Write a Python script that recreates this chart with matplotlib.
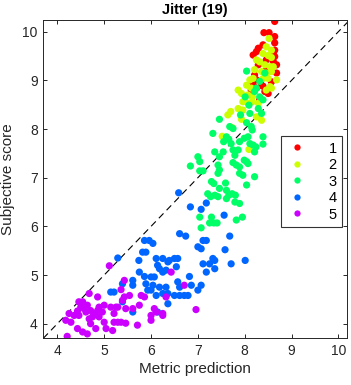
import numpy as np
import matplotlib.pyplot as plt
from matplotlib.lines import Line2D

plt.rcParams['font.family'] = ['Liberation Sans', 'DejaVu Sans']

# group 1 (red)
x1 = [8.64, 8.41, 8.52, 8.64, 8.39, 8.29, 8.25, 8.18, 8.64, 8.64, 8.64, 8.61, 8.46, 8.29, 8.21,
      8.18, 8.14, 8.25, 8.57, 8.50, 8.39, 8.25, 8.43, 8.46, 8.68, 8.68, 8.32, 8.14, 8.61, 8.36]
y1 = [10.21, 9.98, 9.98, 9.90, 9.73, 9.66, 9.59, 9.52, 9.77, 9.62, 9.49, 9.39, 9.42, 9.32, 9.11,
      8.90, 8.97, 9.01, 8.97, 8.73, 8.88, 8.84, 8.77, 9.22, 9.32, 9.15, 8.60, 8.80, 9.56, 8.90]

# group 2 (yellow)
x2 = [8.52, 8.46, 8.57, 8.39, 8.50, 8.57, 8.32, 8.25, 8.43, 8.54, 8.61, 8.21, 8.36, 8.46, 8.57,
      8.39, 8.50, 8.18, 8.11, 8.04, 8.14, 7.86, 7.93, 8.07, 8.16, 7.96, 8.07, 8.16, 8.29, 7.86,
      7.96, 7.70, 7.64, 7.93, 8.36, 8.25, 7.73, 7.52, 8.09, 8.54, 8.46, 8.68, 8.57]
y2 = [9.86, 9.69, 9.62, 9.55, 9.51, 9.47, 9.38, 9.42, 9.32, 9.28, 9.28, 9.22, 9.18, 9.15, 9.18,
      9.04, 9.04, 9.04, 9.01, 8.90, 8.84, 8.80, 8.73, 8.70, 8.66, 8.56, 8.53, 8.56, 8.53, 8.42,
      8.39, 8.36, 8.29, 8.20, 8.18, 8.25, 8.03, 7.85, 7.58, 8.87, 8.80, 9.01, 8.84]

# group 3 (green)
x3 = [8.04, 8.01, 8.09, 8.11, 7.91, 7.46, 7.68, 7.75, 8.04, 8.14, 8.16, 8.07, 7.99, 8.11, 8.18,
      8.24, 8.39, 8.39, 8.21, 7.61, 7.55, 7.66, 7.71, 7.32, 7.36, 7.54, 7.75, 7.79, 7.89, 7.86,
      7.46, 7.75, 7.82, 7.89, 7.99, 8.04, 8.07, 7.89, 7.96, 8.04, 8.21, 7.00, 7.04, 6.84, 7.04,
      7.11, 7.43, 7.46, 7.43, 7.29, 7.34, 7.21, 7.27, 7.36, 7.43, 7.59, 7.61, 7.61, 7.66, 7.73,
      7.80, 7.79, 7.89, 7.46, 7.04, 7.07, 7.29, 7.34, 7.25, 7.41, 7.82, 7.95, 8.32, 8.39, 8.29,
      8.36, 8.25, 8.43, 8.32, 8.21]
y3 = [9.19, 8.66, 8.49, 8.32, 8.29, 8.20, 8.05, 8.01, 8.13, 8.05, 7.98, 7.84, 7.81, 7.70, 7.67,
      7.63, 7.84, 7.69, 7.53, 7.84, 7.74, 7.79, 7.70, 7.91, 7.53, 7.53, 7.57, 7.46, 7.74, 7.57,
      7.43, 7.31, 7.26, 7.22, 7.36, 7.33, 7.29, 7.09, 7.05, 6.85, 7.02, 7.43, 7.33, 7.24, 7.14,
      7.14, 7.26, 7.16, 7.09, 6.92, 6.88, 6.67, 6.61, 6.64, 6.61, 6.89, 6.74, 6.57, 6.64, 6.67,
      6.64, 6.50, 6.47, 6.78, 6.19, 5.97, 6.19, 6.07, 6.07, 6.07, 6.13, 6.19, 8.66, 8.60, 8.42,
      8.32, 8.84, 9.15, 8.98, 8.77]

# group 4 (blue)
x4 = [5.29, 5.14, 5.39, 5.39, 5.61, 5.61, 5.61, 5.74, 5.75, 5.82, 5.89, 5.86, 5.96, 6.04, 5.86,
      5.89, 5.93, 6.00, 6.07, 6.11, 6.14, 6.18, 6.25, 6.04, 6.00, 6.11, 6.18, 6.14, 6.25, 6.32,
      6.36, 6.39, 6.32, 6.36, 6.25, 6.36, 6.50, 6.54, 6.57, 6.57, 6.50, 6.61, 6.61, 6.71, 6.79,
      6.82, 6.86, 7.00, 7.07, 7.11, 7.11, 7.00, 7.07, 7.18, 7.18, 7.25, 7.32, 7.36, 7.36, 6.61,
      6.74, 6.84, 6.59, 7.07, 7.18, 7.56, 7.58, 7.68, 7.71, 8.01, 5.21]
y4 = [5.35, 4.65, 4.82, 4.45, 4.89, 4.24, 4.79, 5.30, 5.06, 5.47, 5.47, 5.71, 5.71, 5.65, 4.97,
      4.82, 4.69, 4.96, 4.96, 5.34, 5.20, 5.13, 5.06, 4.79, 4.69, 4.58, 4.75, 4.24, 5.34, 5.10,
      5.27, 5.30, 4.75, 4.41, 4.62, 4.62, 5.34, 5.17, 5.34, 4.86, 4.58, 4.75, 4.58, 4.58, 4.58,
      4.97, 4.79, 4.69, 4.79, 5.23, 5.71, 5.58, 5.54, 5.06, 5.71, 5.23, 5.34, 5.13, 5.30, 5.85,
      5.80, 6.40, 6.69, 6.35, 6.48, 6.23, 5.52, 5.80, 5.23, 5.30, 4.65]

# group 5 (purple)
x5 = [4.21, 4.18, 4.29, 4.25, 4.43, 4.36, 4.46, 4.54, 4.68, 4.57, 4.64, 4.50, 4.43, 4.54, 4.64,
      4.71, 4.68, 4.79, 4.86, 4.89, 4.89, 4.82, 5.00, 5.00, 4.96, 4.71, 4.61, 4.75, 5.04, 5.18,
      5.14, 5.21, 5.25, 5.21, 5.29, 5.36, 5.46, 5.39, 5.43, 5.54, 5.43, 5.36, 5.46, 5.61, 5.29,
      5.71, 5.75, 5.79, 5.86, 6.00, 6.00, 6.07, 6.11, 6.25, 6.25, 6.32, 6.43, 6.71, 6.96, 5.11,
      4.86, 4.46, 4.54]
y5 = [3.74, 4.07, 4.03, 4.21, 4.26, 4.17, 4.45, 4.45, 4.62, 4.31, 4.38, 4.34, 3.90, 3.83, 3.79,
      4.00, 4.10, 4.21, 4.55, 4.34, 4.14, 3.90, 4.03, 4.38, 4.24, 4.27, 4.24, 4.14, 3.90, 3.86,
      4.34, 4.21, 4.34, 4.03, 4.03, 4.03, 4.01, 4.48, 4.55, 4.58, 4.89, 4.70, 4.31, 4.31, 4.34,
      3.97, 4.38, 4.58, 4.55, 4.07, 4.17, 4.31, 4.24, 4.17, 4.21, 4.55, 5.06, 4.79, 4.29, 5.19,
      4.27, 4.17, 4.41]

groups = [(x1, y1), (x2, y2), (x3, y3), (x4, y4), (x5, y5)]
labels = ['1', '2', '3', '4', '5']
colors = [(1, 0, 0), (0.8, 1, 0), (0, 1, 0.4), (0, 0.4, 1), (0.8, 0, 1)]

fig = plt.figure(figsize=(3.51, 3.85), dpi=100)
ax = fig.add_axes([43.3 / 351, 1 - 338.3 / 385, 304 / 351, 318.3 / 385])

lo, hi = 3.7, 10.24
ax.plot([lo, hi], [lo, hi], color='k', lw=0.8, dashes=(6, 4), zorder=1)

for (gx, gy), c in zip(groups, colors):
    ax.scatter(gx, gy, s=27, color=c, edgecolors='none', zorder=2)

ax.set_xlim(lo, 10.19)
ax.set_ylim(lo, hi)
ax.set_xticks([4, 5, 6, 7, 8, 9, 10])
ax.set_yticks([4, 5, 6, 7, 8, 9, 10])

gray = (0.15, 0.15, 0.15)
for s in ax.spines.values():
    s.set_color(gray)
    s.set_linewidth(0.7)
ax.tick_params(direction='in', top=True, right=True, length=3, width=0.7,
               colors=gray, labelsize=10, pad=4)

ax.set_xlabel('Metric prediction', fontsize=11, color=gray, labelpad=3)
ax.set_ylabel('Subjective score', fontsize=11, color=gray, labelpad=5)
ax.set_title('Jitter (19)', fontsize=10.5, fontweight='bold', pad=4)

handles = [Line2D([], [], ls='none', marker='o', ms=4.5, color=c, mec='none') for c in colors]
leg = ax.legend(handles, labels, loc='upper left', bbox_to_anchor=(0.782, 0.634),
                frameon=True, fancybox=False, edgecolor='k', fontsize=10.5,
                handletextpad=1.4, labelspacing=0.17, borderpad=0.35,
                handlelength=1.5, markerfirst=True, borderaxespad=0)
leg.get_frame().set_linewidth(0.8)

fig.savefig('out.png', dpi=100)
